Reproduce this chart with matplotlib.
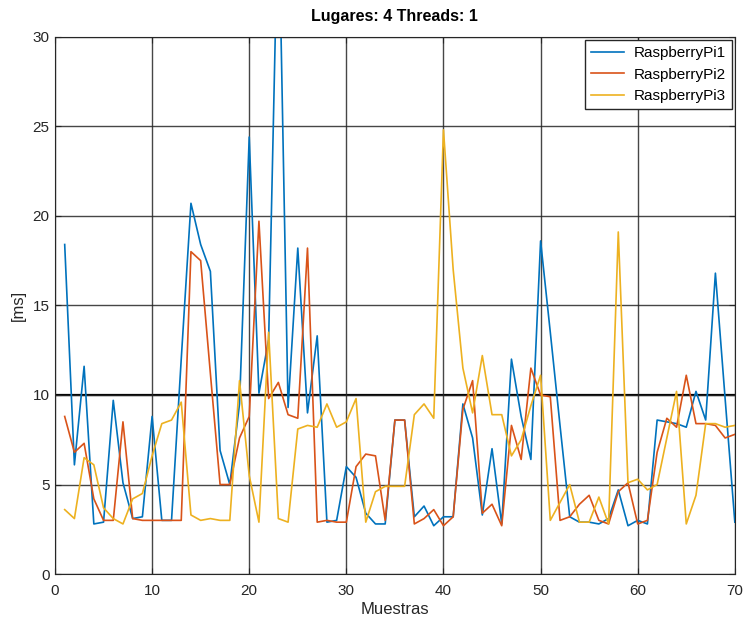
import matplotlib

matplotlib.use("Agg")
import matplotlib.pyplot as plt

# samples 1..70
muestras = list(range(1, 71))

pi1 = [18.4, 6.1, 11.6, 2.8, 2.9, 9.7, 5.1, 3.1, 3.2, 8.8,
       3.0, 3.0, 12.0, 20.7, 18.4, 16.9, 6.9, 5.0, 9.5, 24.4,
       10.1, 13.1, 38.0, 9.3, 18.2, 9.0, 13.3, 2.9, 3.0, 6.0,
       5.4, 3.4, 2.8, 2.8, 8.6, 8.6, 3.2, 3.8, 2.7, 3.2,
       3.2, 9.5, 7.6, 3.3, 7.0, 2.8, 12.0, 8.8, 6.4, 18.6,
       13.5, 8.3, 3.2, 2.9, 2.9, 2.8, 3.1, 4.7, 2.7, 3.0,
       2.8, 8.6, 8.5, 8.4, 8.2, 10.2, 8.6, 16.8, 9.8, 2.9]

pi2 = [8.8, 6.8, 7.3, 4.2, 3.0, 3.0, 8.5, 3.1, 3.0, 3.0,
       3.0, 3.0, 3.0, 18.0, 17.5, 11.2, 5.0, 5.0, 7.6, 8.8,
       19.7, 9.8, 10.7, 8.9, 8.7, 18.2, 2.9, 3.0, 2.9, 2.9,
       6.0, 6.7, 6.6, 3.0, 8.6, 8.6, 2.8, 3.1, 3.6, 2.7,
       3.2, 9.2, 10.8, 3.4, 3.9, 2.7, 8.3, 6.4, 11.5, 10.0,
       9.9, 3.0, 3.2, 3.9, 4.4, 3.0, 2.8, 4.6, 5.1, 2.8,
       3.0, 6.8, 8.7, 8.2, 11.1, 8.4, 8.4, 8.3, 7.6, 7.8]

pi3 = [3.6, 3.1, 6.5, 6.1, 3.7, 3.1, 2.8, 4.2, 4.5, 6.6,
       8.4, 8.6, 9.6, 3.3, 3.0, 3.1, 3.0, 3.0, 10.8, 5.5,
       2.9, 13.5, 3.1, 2.9, 8.1, 8.3, 8.2, 9.5, 8.2, 8.5,
       9.8, 2.9, 4.6, 4.9, 4.9, 4.9, 8.9, 9.5, 8.7, 24.8,
       17.0, 11.5, 9.0, 12.2, 8.9, 8.9, 6.6, 7.5, 9.4, 11.1,
       3.0, 4.0, 5.0, 2.9, 2.9, 4.3, 2.8, 19.1, 5.1, 5.3,
       4.7, 5.0, 7.6, 10.2, 2.8, 4.4, 8.4, 8.4, 8.2, 8.3]

labels = ["RaspberryPi1", "RaspberryPi2", "RaspberryPi3"]
colors = ["#0072BD", "#D95319", "#EDB120"]

plt.rcParams["font.family"] = ["Liberation Sans", "DejaVu Sans"]

fig = plt.figure(figsize=(7.43, 6.22), dpi=100)
ax = fig.add_axes([0.074, 0.077, 0.915, 0.864])

for values, label, color in zip([pi1, pi2, pi3], labels, colors):
    ax.plot(muestras, values, color=color, linewidth=1.2, label=label)

ax.axhline(10, color="black", linewidth=1.6, zorder=0)

ax.set_xlim(0, 70)
ax.set_ylim(0, 30)
ax.set_xticks(range(0, 71, 10))
ax.set_yticks(range(0, 31, 5))
ax.grid(True, color="#262626", linewidth=1.0, alpha=0.85)
ax.set_axisbelow(True)
ax.tick_params(direction="in", labelsize=11, length=4, top=True, right=True,
               colors="#262626")
ax.tick_params(axis="x", pad=7)
ax.tick_params(axis="y", pad=4)
for spine in ax.spines.values():
    spine.set_color("#262626")

ax.set_title("Lugares: 4 Threads: 1", fontsize=11.5, fontweight="bold", pad=11)
ax.set_xlabel("Muestras", fontsize=12, labelpad=3, color="#262626")
ax.set_ylabel("[ms]", fontsize=12, labelpad=5, color="#262626")

leg = ax.legend(loc="upper right", fontsize=11, fancybox=False, framealpha=1,
                edgecolor="#262626", handlelength=2.2, handletextpad=0.6,
                borderaxespad=0.2, labelspacing=0.5)
leg.get_frame().set_linewidth(1.0)

fig.savefig("out.png", dpi=100)
